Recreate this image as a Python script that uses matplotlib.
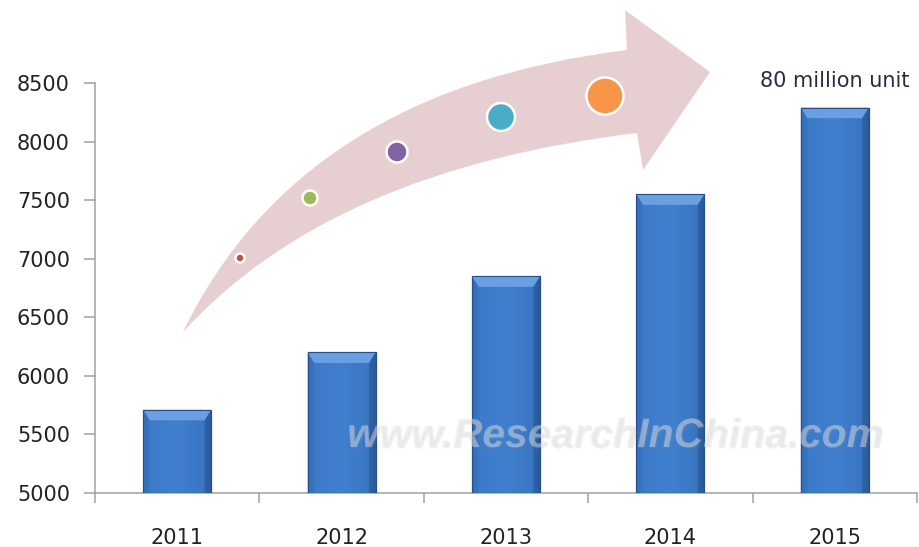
import numpy as np
import matplotlib.pyplot as plt
from matplotlib.path import Path
from matplotlib.patches import PathPatch, Polygon, Circle
from matplotlib.colors import LinearSegmentedColormap
import matplotlib.patheffects as pe

plt.rcParams["font.family"] = "DejaVu Sans"

# %% data
years = ['2011', '2012', '2013', '2014', '2015']
units = [5710, 6200, 6850, 7550, 8290]
y_ticks = [5000, 5500, 6000, 6500, 7000, 7500, 8000, 8500]
top_label = '80 million unit'

# decorative arrow + growth dots (figure pixels, from top-left)
arrow_upper = [(183, 332), (300, 90), (627, 50)]
arrow_head = [(625, 10), (710, 72), (643, 170), (637, 133)]
arrow_lower_ctrl = (330, 170)
dot_xy = [(240, 258), (310, 198), (397, 152), (501, 117), (605, 96)]
dot_r = [4.5, 7.5, 10.5, 14, 18.5]
dot_colors = ['#c0504d', '#9bbb59', '#8064a2', '#4bacc6', '#f79646']

# %% figure
W, H = 919, 547
fig = plt.figure(figsize=(W / 100, H / 100), dpi=100)
ax = fig.add_axes([95 / W, (H - 493) / H, 822 / W, 410 / H])

x = np.arange(len(years))
bars = ax.bar(x, np.array(units) - 5000, bottom=5000, width=0.414,
              color='#3e7dcc', edgecolor='#25508c', linewidth=0.8, zorder=3)

# Gradient auf den Balken
cmap = LinearSegmentedColormap.from_list(
    'bar', [(0, '#2c5fa5'), (0.1, '#3d7bc9'), (0.5, '#4080cf'),
            (0.88, '#3a76c2'), (1, '#2a5a9c')])
grad = np.linspace(0, 1, 64).reshape(1, -1)
bx, by = 0.04, 90
for p in bars:
    x0, w = p.get_x(), p.get_width()
    top = p.get_y() + p.get_height()
    im = ax.imshow(grad, extent=[x0, x0 + w, 5000, top], aspect='auto',
                   cmap=cmap, zorder=3.1)
    im.set_clip_path(p)
    # bevel oben
    ax.add_patch(Polygon([(x0, top), (x0 + w, top), (x0 + w - bx, top - by),
                          (x0 + bx, top - by)], closed=True,
                         facecolor='#6aa0e2', edgecolor='none', zorder=3.2))
    ax.add_patch(Polygon([(x0, top), (x0 + bx, top - by), (x0 + bx, 5000),
                          (x0, 5000)], closed=True,
                         facecolor='#3a74c0', edgecolor='none', alpha=0.6, zorder=3.2))
    ax.add_patch(Polygon([(x0 + w, top), (x0 + w - bx, top - by), (x0 + w - bx, 5000),
                          (x0 + w, 5000)], closed=True,
                         facecolor='#2a5898', edgecolor='none', alpha=0.6, zorder=3.2))
    ax.add_patch(Polygon([(x0, top), (x0 + w, top), (x0 + w, 5000), (x0, 5000)],
                         closed=True, facecolor='none', edgecolor='#25508c',
                         linewidth=0.8, zorder=3.3))

ax.set_xlim(-0.5, len(years) - 0.5)
ax.set_ylim(5000, 8500)

ax.set_yticks(y_ticks)
ax.set_xticks(x)
ax.set_xticklabels(years)
ax.set_xticks(np.arange(len(years) + 1) - 0.5, minor=True)
ax.tick_params(axis='y', length=8, width=1.1, color='#a0a0a0', pad=10,
               labelsize=15, labelcolor='#222222')
ax.tick_params(axis='x', which='major', length=0, pad=25,
               labelsize=15, labelcolor='#222222')
ax.tick_params(axis='x', which='minor', length=7, width=1.1, color='#a0a0a0')

ax.spines['top'].set_visible(False)
ax.spines['right'].set_visible(False)
ax.spines['left'].set_color('#a0a0a0')
ax.spines['bottom'].set_color('#a0a0a0')
ax.spines['left'].set_linewidth(1.1)
ax.spines['bottom'].set_linewidth(1.1)

ax.text(x[-1], 8515, top_label, ha='center', va='center', fontsize=15,
        color='#33283d', zorder=5)


# %% arrow
def px(pt):
    return (pt[0] / W, 1 - pt[1] / H)


verts = [px(arrow_upper[0]), px(arrow_upper[1]), px(arrow_upper[2])]
codes = [Path.MOVETO, Path.CURVE3, Path.CURVE3]
for pt in arrow_head:
    verts.append(px(pt))
    codes.append(Path.LINETO)
verts += [px(arrow_lower_ctrl), px(arrow_upper[0])]
codes += [Path.CURVE3, Path.CURVE3]
arrow = PathPatch(Path(verts, codes), facecolor='#e7cfd1', edgecolor='none',
                  transform=fig.transFigure, zorder=1)
fig.patches.append(arrow)

for (cx, cy), r, c in zip(dot_xy, dot_r, dot_colors):
    fig.patches.append(Circle((cx / 100, (H - cy) / 100), r / 100,
                              facecolor=c, edgecolor='white', linewidth=1.8,
                              transform=fig.dpi_scale_trans, zorder=2))

# %% watermark
fig.text(615 / W, 1 - 447 / H, 'www.ResearchInChina.com', ha='center',
         va='baseline', fontsize=29.5, fontweight='bold', style='italic',
         family='Liberation Sans', color='#e4e4e4', alpha=0.45, zorder=10,
         path_effects=[pe.withSimplePatchShadow(offset=(1, -1),
                                                shadow_rgbFace='#a0a0a0', alpha=0.15)])

plt.savefig('out.png', dpi=100)
